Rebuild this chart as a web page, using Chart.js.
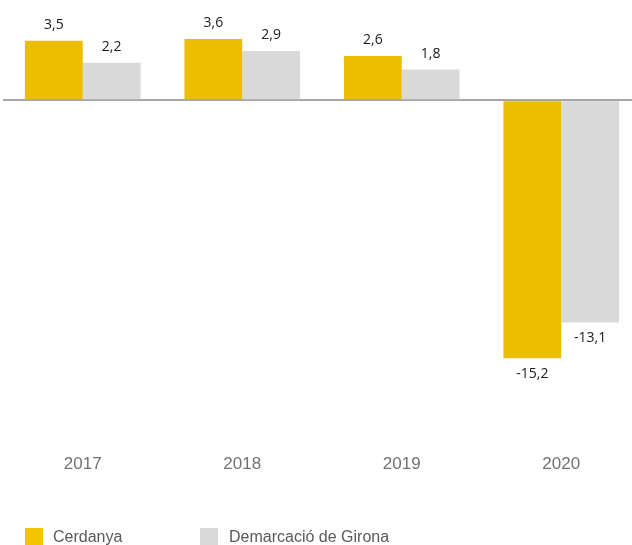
<!DOCTYPE html>
<html lang="ca">
<head>
  <meta charset="UTF-8">
  <title>Cerdanya vs Demarcació de Girona</title>
  <script src="https://cdn.jsdelivr.net/npm/chart.js"></script>
  <style>
    html, body { margin: 0; padding: 0; overflow: hidden; background: #fff; }
    #wrap { position: relative; width: 632px; height: 545px; overflow: hidden; }
    #myChart { position: absolute; left: 0; top: 0; }
    .lg { position: absolute; font-family: "Liberation Sans", Arial, sans-serif;
          font-size: 16px; line-height: 16px; color: #595959; white-space: nowrap; }
    .box { position: absolute; width: 18px; height: 18px; }
  </style>
</head>
<body>
  <div id="wrap">
    <canvas id="myChart" width="641" height="545"></canvas>
    <div class="box" style="left:25px; top:528px; background:#f2c500;"></div>
    <div class="lg" style="left:53px; top:529px;">Cerdanya</div>
    <div class="box" style="left:200px; top:528px; background:#d9d9d9;"></div>
    <div class="lg" style="left:229px; top:529px;">Demarcació de Girona</div>
  </div>

  <script>
    const years = ['2017', '2018', '2019', '2020'];
    const cerdanya = [3.5, 3.6, 2.6, -15.2];
    const girona = [2.2, 2.9, 1.8, -13.1];

    // value labels above / below each bar
    const valueLabels = {
      id: 'valueLabels',
      afterDatasetsDraw(chart) {
        const c = chart.ctx;
        c.save();
        c.font = '14px "Open Sans", "Noto Sans", sans-serif';
        c.fillStyle = '#1a1a1a';
        c.textAlign = 'center';
        c.textBaseline = 'middle';
        chart.data.datasets.forEach((ds, i) => {
          chart.getDatasetMeta(i).data.forEach((bar, j) => {
            const v = ds.data[j];
            const y = v >= 0 ? bar.y - 16 : bar.y + 16;
            c.fillText(String(v).replace('.', ','), bar.x, y);
          });
        });
        c.restore();
      }
    };

    const ctx = document.getElementById('myChart').getContext('2d');

    new Chart(ctx, {
      type: 'bar',
      data: {
        labels: years,
        datasets: [
          {
            label: 'Cerdanya',
            data: cerdanya,
            backgroundColor: '#ebbf00'
          },
          {
            label: 'Demarcació de Girona',
            data: girona,
            backgroundColor: '#d9d9d9'
          }
        ]
      },
      options: {
        responsive: false,
        animation: false,
        layout: { padding: { left: 3, right: 0, top: 0, bottom: 55 } },
        datasets: {
          bar: { categoryPercentage: 0.725, barPercentage: 1 }
        },
        plugins: {
          legend: { display: false },
          tooltip: { enabled: false }
        },
        scales: {
          x: {
            grid: { display: false, drawTicks: false },
            border: { display: false },
            ticks: {
              padding: 15,
              color: '#767171',
              font: { family: '"Liberation Sans", Arial, sans-serif', size: 17 }
            }
          },
          y: {
            min: -20,
            max: 5.9,
            grid: {
              drawTicks: false,
              lineWidth: 2,
              color: (c) => c.tick && c.tick.value === 0 ? '#a6a6a6' : 'rgba(0,0,0,0)'
            },
            border: { display: false },
            ticks: { display: false, stepSize: 10 }
          }
        }
      },
      plugins: [valueLabels]
    });
  </script>
</body>
</html>
